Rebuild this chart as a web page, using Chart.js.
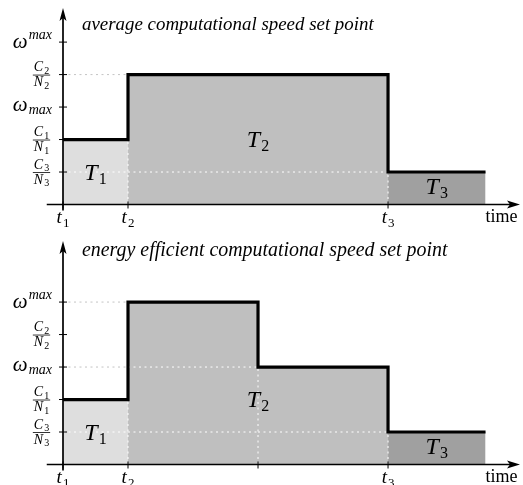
<!DOCTYPE html>
<html>
<head>
<meta charset="utf-8">
<script src="https://cdn.jsdelivr.net/npm/chart.js@4.4.1/dist/chart.umd.min.js"></script>
<style>
  body { margin: 0; background: #fff; }
  canvas { display: block; }
</style>
</head>
<body>
<canvas id="avgChart" width="523" height="240"></canvas>
<canvas id="effChart" width="523" height="245"></canvas>
<script>
// speed levels on the y axis
const yTickValues = [1, 2, 3, 4, 5];
const yTickLabels = ['C_3/N_3', 'C_1/N_1', 'ω_max', 'C_2/N_2', 'ω^max'];

// tasks
const taskNames = ['T_1', 'T_2', 'T_3'];
const taskBounds = [0, 1, 5, 6.5];
const taskLabelLevel = [1, 2, 0.55];

// average computational speed set point
const avgTitle = 'average computational speed set point';
const avgTimes = [0, 1, 5, 6.5];
const avgSpeed = [2, 4, 1, 1];
const avgXTicks = [0, 1, 5];
const avgXLabels = ['t_1', 't_2', 't_3'];

// energy efficient computational speed set point
const effTitle = 'energy efficient computational speed set point';
const effTimes = [0, 1, 3, 5, 6.5];
const effSpeed = [2, 5, 3, 1, 1];
const effXTicks = [0, 1, 3, 5];
const effXLabels = ['t_1', 't_2', '', 't_3'];

const taskColors = ['#dedede', '#bfbfbf', '#a0a0a0'];

const speedAt = (times, speed, x) => {
    let v = speed[0];
    for (let i = 0; i < times.length; i++) {
        if (times[i] <= x) v = speed[i];
    }
    return v;
};

const splitScript = (s) => {
    const m = s.match(/^(.*?)([_^])(.*)$/);
    return m ? { base: m[1], kind: m[2], script: m[3] } : { base: s, kind: '', script: '' };
};

const mathFont = (size) => 'italic ' + size + 'px "Liberation Serif"';
// digits are upright in math mode
const scriptFont = (txt, size) => /^\d+$/.test(txt) ? size + 'px "Liberation Serif"' : mathFont(size);

const scriptedWidth = (ctx, s, size, ss) => {
    const p = splitScript(s);
    ctx.font = mathFont(size);
    let w = ctx.measureText(p.base).width;
    if (p.kind) {
        ctx.font = scriptFont(p.script, ss);
        w += 1 + ctx.measureText(p.script).width;
    }
    return w;
};

const drawScripted = (ctx, s, x, y, size, ss, align, subDrop) => {
    const p = splitScript(s);
    const w = scriptedWidth(ctx, s, size, ss);
    const left = align === 'right' ? x - w : align === 'center' ? x - w / 2 : x;
    ctx.textAlign = 'left';
    ctx.textBaseline = 'alphabetic';
    ctx.font = mathFont(size);
    ctx.fillText(p.base, left, y);
    if (p.kind) {
        const bw = ctx.measureText(p.base).width;
        ctx.font = scriptFont(p.script, ss);
        const dy = p.kind === '_' ? (subDrop !== undefined ? subDrop : size * 0.25) : -size * 0.4;
        ctx.fillText(p.script, left + bw + 1, y + dy);
    }
};

const makeSketchPlugin = (cfg) => ({
    id: 'sketch',
    afterDatasetsDraw(chart) {
        const ctx = chart.ctx;
        const xs = chart.scales.x;
        const ys = chart.scales.y;
        const x0 = xs.getPixelForValue(0);
        const y0 = ys.getPixelForValue(0);
        const xEnd = xs.getPixelForValue(xs.max);
        const yTop = ys.getPixelForValue(ys.max);

        ctx.save();
        ctx.strokeStyle = '#000';
        ctx.fillStyle = '#000';

        // axes
        ctx.lineWidth = 1.7;
        ctx.beginPath();
        ctx.moveTo(xs.getPixelForValue(-0.25), y0);
        ctx.lineTo(xEnd - 8, y0);
        ctx.moveTo(x0, y0 + 6);
        ctx.lineTo(x0, yTop + 8);
        ctx.stroke();

        // arrow heads
        ctx.beginPath();
        ctx.moveTo(xEnd, y0);
        ctx.lineTo(xEnd - 13, y0 - 4);
        ctx.lineTo(xEnd - 10, y0);
        ctx.lineTo(xEnd - 13, y0 + 4);
        ctx.closePath();
        ctx.fill();
        ctx.beginPath();
        ctx.moveTo(x0, yTop);
        ctx.lineTo(x0 - 3.5, yTop + 13);
        ctx.lineTo(x0, yTop + 10);
        ctx.lineTo(x0 + 3.5, yTop + 13);
        ctx.closePath();
        ctx.fill();

        // tick marks
        ctx.lineWidth = 1;
        ctx.beginPath();
        cfg.xTicks.forEach((v) => {
            const px = xs.getPixelForValue(v);
            ctx.moveTo(px, y0 - 3);
            ctx.lineTo(px, y0 + 4);
        });
        yTickValues.forEach((v) => {
            const py = ys.getPixelForValue(v);
            ctx.moveTo(x0 - 4, py);
            ctx.lineTo(x0 + 4, py);
        });
        ctx.stroke();

        // y tick labels
        yTickValues.forEach((v, i) => {
            const py = ys.getPixelForValue(v);
            const label = yTickLabels[i];
            if (label.includes('/')) {
                const [num, den] = label.split('/');
                const cx = x0 - 21.5;
                const w = Math.max(scriptedWidth(ctx, num, 14, 10), scriptedWidth(ctx, den, 14, 10));
                drawScripted(ctx, num, cx, py - 3.5, 14, 10, 'center', 2.5);
                drawScripted(ctx, den, cx, py + 11.5, 14, 10, 'center', 2.5);
                ctx.lineWidth = 0.8;
                ctx.beginPath();
                ctx.moveTo(cx - w / 2 - 1, py + 0.5);
                ctx.lineTo(cx + w / 2 + 1, py + 0.5);
                ctx.stroke();
            } else if (label.includes('^')) {
                drawScripted(ctx, label, x0 - 11, py + 5.5, 21, 14, 'right');
            } else {
                drawScripted(ctx, label, x0 - 11, py + 4, 21, 14, 'right', 3);
            }
        });

        // x tick labels
        cfg.xTicks.forEach((v, i) => {
            if (!cfg.xLabels[i]) return;
            drawScripted(ctx, cfg.xLabels[i], xs.getPixelForValue(v), y0 + 18, 19, 13, 'center', 4);
        });
        ctx.font = '18px "Liberation Serif"';
        ctx.textAlign = 'left';
        ctx.fillText('time', xs.getPixelForValue(6.5), y0 + 17);

        // task labels
        taskNames.forEach((name, k) => {
            const cx = xs.getPixelForValue((taskBounds[k] + taskBounds[k + 1]) / 2);
            const cy = ys.getPixelForValue(taskLabelLevel[k]);
            drawScripted(ctx, name, cx, cy + 7.5, 24, 16, 'center', 4);
        });

        // title
        ctx.font = mathFont(16);
        const size = 16 * cfg.titleWidth / ctx.measureText(cfg.title).width;
        ctx.font = mathFont(size.toFixed(1));
        ctx.fillText(cfg.title, x0 + 19, cfg.titleY);
        ctx.restore();
    }
});

const buildDatasets = (times, speed) => {
    const sets = [];

    // filled task areas
    taskNames.forEach((name, k) => {
        const a = taskBounds[k];
        const b = taskBounds[k + 1];
        const pts = [{ x: a, y: speedAt(times, speed, a) }];
        times.forEach((t, i) => {
            if (t > a && t < b) pts.push({ x: t, y: speed[i] });
        });
        pts.push({ x: b, y: speedAt(times, speed, b - 1e-6) });
        sets.push({
            data: pts,
            stepped: true,
            fill: 'origin',
            backgroundColor: taskColors[k],
            borderColor: 'rgba(0,0,0,0)',
            borderWidth: 0,
            pointRadius: 0,
            order: 3
        });
    });

    // dotted guide lines
    for (let i = 1; i < times.length - 1; i++) {
        const level = speed[i];
        for (let j = 0; j < i; j++) {
            sets.push({
                data: [{ x: times[j], y: level }, { x: times[j + 1], y: level }],
                borderColor: level < speed[j] ? '#ffffff' : '#c4c4c4',
                borderWidth: 1,
                borderDash: [2, 3.5],
                pointRadius: 0,
                fill: false,
                order: 2
            });
        }
        sets.push({
            data: [{ x: times[i], y: 0 }, { x: times[i], y: Math.min(speed[i - 1], speed[i]) }],
            borderColor: '#ffffff',
            borderWidth: 1,
            borderDash: [2, 3.5],
            pointRadius: 0,
            fill: false,
            order: 2
        });
    }

    // speed set point
    sets.push({
        data: times.map((t, i) => ({ x: t, y: speed[i] })),
        stepped: true,
        borderColor: '#000',
        borderWidth: 3.2,
        borderJoinStyle: 'miter',
        borderCapStyle: 'butt',
        pointRadius: 0,
        fill: false,
        order: 1
    });
    return sets;
};

const makeChart = (id, times, speed, yMax, padding, cfg) => {
    const ctx = document.getElementById(id).getContext('2d');
    return new Chart(ctx, {
        type: 'line',
        data: { datasets: buildDatasets(times, speed) },
        options: {
            responsive: false,
            animation: false,
            layout: { padding: padding },
            plugins: { legend: { display: false }, tooltip: { enabled: false } },
            scales: {
                x: { type: 'linear', min: 0, max: 7.03, display: false },
                y: { type: 'linear', min: 0, max: yMax, display: false }
            }
        },
        plugins: [makeSketchPlugin(cfg)]
    });
};

makeChart('avgChart', avgTimes, avgSpeed, 6.05,
    { left: 63, right: 3, top: 8, bottom: 35.5 },
    { title: avgTitle, titleWidth: 292, titleY: 30, xTicks: avgXTicks, xLabels: avgXLabels });

makeChart('effChart', effTimes, effSpeed, 6.88,
    { left: 63, right: 3, top: 1, bottom: 20.5 },
    { title: effTitle, titleWidth: 366, titleY: 16, xTicks: effXTicks, xLabels: effXLabels });
</script>
</body>
</html>
